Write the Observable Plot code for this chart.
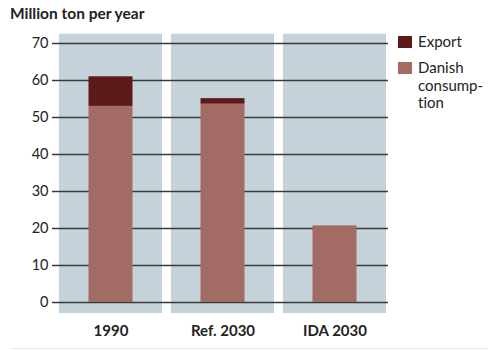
<!DOCTYPE html>
<html>
<head>
<meta charset="utf-8">
<script src="https://cdn.jsdelivr.net/npm/d3@7"></script>
<script src="https://cdn.jsdelivr.net/npm/@observablehq/plot@0.6"></script>
<style>
  body { margin: 0; background: #fff; font-family: Lato, sans-serif; font-variant-ligatures: none; }
  #wrap { position: relative; width: 488px; height: 350px; overflow: hidden; }
  #chart { position: absolute; left: 0; top: 0; }
  #chart svg text { font-variant-ligatures: none; }
  #title { position: absolute; left: 10px; top: 4px; font-weight: 700; font-size: 15.5px; color: #222; }
  .lg-sw { position: absolute; width: 14px; height: 12px; }
  .lg-tx { position: absolute; font-size: 15px; color: #222; line-height: 17.5px; font-variant-ligatures: none; }
  #bottomline { position: absolute; left: 10px; right: 0; top: 348px; height: 1px; background: #e8e8e8; }
  g[aria-label="x-axis tick label"] text { font-weight: 700; }
</style>
</head>
<body>
<div id="wrap">
  <div id="chart"></div>
  <div id="title">Million ton per year</div>
  <div id="legend"></div>
  <div id="bottomline"></div>
</div>
<script>
const categories = ["1990", "Ref. 2030", "IDA 2030"];
const danishConsumption = [53, 53.6, 20.7];
const exportValues = [8, 1.5, 0];
const yTicks = [0, 10, 20, 30, 40, 50, 60, 70];
const seriesNames = ["Export", "Danish consumption"];
const seriesLabels = ["Export", "Danish<br>consump-<br>tion"];
const seriesColors = ["#5e191b", "#a26b63"];

const rows = categories.flatMap((c, i) => [
  {cat: c, series: "Danish consumption", value: danishConsumption[i]},
  {cat: c, series: "Export", value: exportValues[i]}
]);

const chart = Plot.plot({
  width: 488,
  height: 350,
  marginLeft: 59,
  marginRight: 101,
  marginTop: 34,
  marginBottom: 37,
  style: {fontFamily: "Lato, sans-serif", color: "#222", background: "transparent"},
  x: {domain: categories, paddingInner: 0.08, paddingOuter: 0, label: null},
  y: {domain: [0, 70], range: [302, 43], label: null},
  color: {domain: seriesNames, range: seriesColors},
  marks: [
    Plot.barY(categories, {x: d => d, y1: () => -3, y2: () => 72.5, fill: "#c6d2d9"}),
    Plot.ruleY(yTicks, {stroke: "#3a3a3a", strokeWidth: 1.3, insetLeft: -7, insetRight: -1}),
    Plot.barY(rows, {x: "cat", y: "value", fill: "series", insetLeft: 29.5, insetRight: 29.5, order: null}),
    Plot.axisY(yTicks, {tickSize: 0, tickPadding: 11, fontSize: 14.5, label: null}),
    Plot.axisX({tickSize: 0, tickPadding: 12, fontSize: 15, fontWeight: "bold", label: null})
  ]
});
document.getElementById("chart").appendChild(chart);

const legend = document.getElementById("legend");
const swTops = [36, 62];
const txTops = [33, 59];
seriesNames.forEach((s, i) => {
  const sw = document.createElement("div");
  sw.className = "lg-sw";
  sw.style.left = "398px";
  sw.style.top = swTops[i] + "px";
  sw.style.background = seriesColors[i];
  legend.appendChild(sw);
  const tx = document.createElement("div");
  tx.className = "lg-tx";
  tx.style.left = "418px";
  tx.style.top = txTops[i] + "px";
  tx.innerHTML = seriesLabels[i];
  legend.appendChild(tx);
});
</script>
</body>
</html>
